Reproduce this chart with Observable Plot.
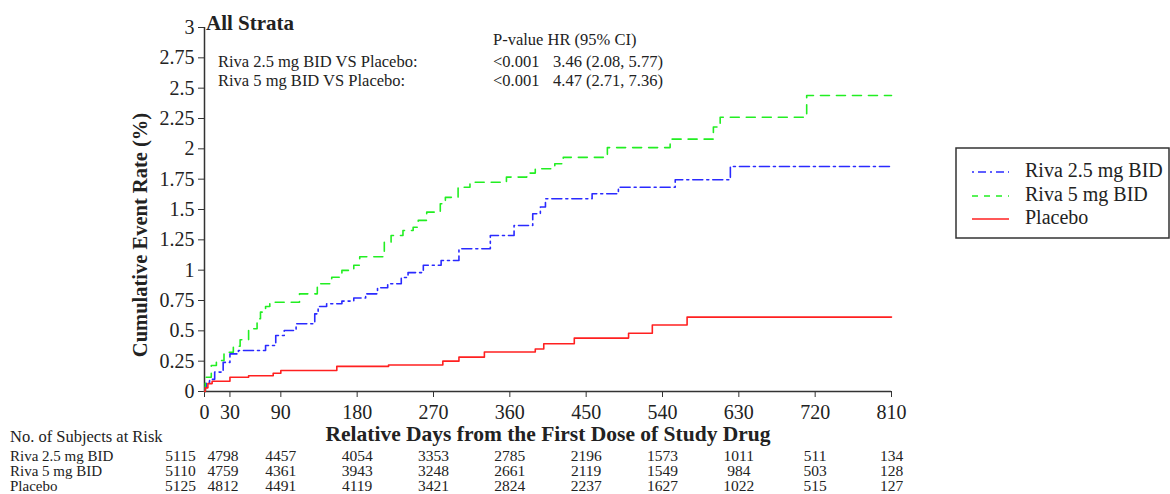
<!DOCTYPE html>
<html><head><meta charset="utf-8">
<script src="https://cdn.jsdelivr.net/npm/d3@7"></script>
<script src="https://cdn.jsdelivr.net/npm/@observablehq/plot@0.6"></script>
<style>body{margin:0;background:#fff;}</style>
</head><body><div id="chart"></div>
<script>
// ---- data ----
const seriesNames = ["Riva 2.5 mg BID", "Riva 5 mg BID", "Placebo"];
const seriesColors = ["#2a2aff", "#22ee22", "#ff2020"];
const seriesDash = ["10,4,2,4", "9,7", null];
const legendDash = ["2,4,8,4", "6,6", null];

const riva25Days  = [0,1,2,6,12,22,30,40,72,84,94,108,130,134,144,162,176,190,204,216,232,240,258,279,300,337,365,387,396,402,457,488,555,620,810];
const riva25Rates = [0,0.04,0.077,0.10,0.16,0.24,0.31,0.338,0.379,0.462,0.503,0.558,0.64,0.70,0.723,0.745,0.77,0.805,0.855,0.888,0.94,0.98,1.04,1.08,1.176,1.286,1.368,1.465,1.52,1.588,1.63,1.684,1.745,1.855,1.855];

const riva5Days  = [0,1,8,14,23,34,42,52,62,66,72,77,112,133,150,162,176,183,212,220,234,246,252,262,278,284,299,313,356,380,390,413,423,475,549,600,608,710,810];
const riva5Rates = [0,0.118,0.214,0.255,0.324,0.373,0.426,0.517,0.60,0.654,0.70,0.736,0.805,0.888,0.942,0.998,1.04,1.11,1.23,1.286,1.327,1.354,1.41,1.478,1.547,1.60,1.684,1.725,1.767,1.80,1.836,1.877,1.93,2.01,2.08,2.18,2.26,2.44,2.44];

const placeboDays  = [0,1,4,9,30,52,81,90,156,217,281,300,330,390,400,436,500,528,569,810];
const placeboRates = [0,0.03,0.065,0.085,0.118,0.13,0.151,0.173,0.207,0.218,0.25,0.283,0.325,0.35,0.393,0.44,0.48,0.548,0.613,0.613];

const xTicks = [0,30,90,180,270,360,450,540,630,720,810];
const yTicks = [0,0.25,0.5,0.75,1,1.25,1.5,1.75,2,2.25,2.5,2.75,3];

const riskDays    = [0,30,90,180,270,360,450,540,630,720,810];
const riskRiva25  = [5115,4798,4457,4054,3353,2785,2196,1573,1011,511,134];
const riskRiva5   = [5110,4759,4361,3943,3248,2661,2119,1549,984,503,128];
const riskPlacebo = [5125,4812,4491,4119,3421,2824,2237,1627,1022,515,127];
const riskLabels  = ["Riva 2.5 mg BID", "Riva 5 mg BID", "Placebo"];
const riskTitle   = "No. of Subjects at Risk";

const panelTitle = "All Strata";
const statHeader = "P-value HR (95% CI)";
const statLabels = ["Riva 2.5 mg BID VS Placebo:", "Riva 5 mg BID VS Placebo:"];
const statPvals  = ["<0.001", "<0.001"];
const statHR     = ["3.46 (2.08, 5.77)", "4.47 (2.71, 7.36)"];
const xTitle = "Relative Days from the First Dose of Study Drug";
const yTitle = "Cumulative Event Rate (%)";

// ---- build ----
const serif = "'Liberation Serif', 'Times New Roman', serif";
const series = [
  {days: riva25Days, rates: riva25Rates},
  {days: riva5Days, rates: riva5Rates},
  {days: placeboDays, rates: placeboRates}
].map((s, k) => s.days.map((d, i) => ({day: d, rate: s.rates[i], series: seriesNames[k]})));

const riskRows = [riskRiva25, riskRiva5, riskPlacebo];
const riskDy = [65, 80, 95];
const riskMarks = [];
riskRows.forEach((row, r) => {
  const data = riskDays.map((d, i) => ({day: d, n: row[i]}));
  const shift = {0: -24, 30: -7};
  const groups = [[0], [30], riskDays.filter(d => d > 30)];
  groups.forEach(gr => {
    riskMarks.push(Plot.text(data.filter(e => gr.includes(e.day)), {
      x: "day", text: d => String(d.n), frameAnchor: "bottom", lineAnchor: "middle",
      dy: riskDy[r], dx: gr.length === 1 ? shift[gr[0]] : 0,
      fontSize: 15.5, fill: "#222"
    }));
  });
});

const lineMarks = series.map((data, k) => Plot.line(data, {
  x: "day", y: "rate", curve: "step-after",
  stroke: seriesColors[k], strokeWidth: 1.6,
  strokeDasharray: seriesDash[k] || undefined
}));

const svg = Plot.plot({
  width: 1170, height: 494,
  marginLeft: 204, marginRight: 279, marginTop: 27, marginBottom: 103,
  style: {fontFamily: serif, fontSize: "18px", color: "#222", background: "#fff", overflow: "visible"},
  x: {domain: [0, 810], label: null},
  y: {domain: [0, 3], label: null},
  marks: [
    Plot.axisY({ticks: yTicks, tickSize: 6, tickPadding: 4, tickFormat: d => String(d), label: null, fontSize: 20, stroke: "#333"}),
    Plot.axisX({ticks: xTicks, tickSize: 6, tickPadding: 7, label: null, fontSize: 20, stroke: "#333"}),
    Plot.ruleX([0], {stroke: "#333", strokeWidth: 1.5}),
    Plot.ruleY([0], {stroke: "#333", strokeWidth: 1.5}),
    ...lineMarks,
    ...riskMarks
  ]
});
document.getElementById("chart").appendChild(svg);

const g = d3.select(svg).append("g").attr("font-family", serif).attr("fill", "#222")
  .attr("text-anchor", "start");

// panel title
g.append("text").attr("x", 206).attr("y", 30).attr("font-size", 21).attr("font-weight", "bold").text(panelTitle);

// stats annotation
g.append("text").attr("x", 493).attr("y", 45).attr("font-size", 16.5).text(statHeader);
statLabels.forEach((t, i) => {
  const y = 67 + i * 19;
  g.append("text").attr("x", 218).attr("y", y).attr("font-size", 16.5).text(t);
  g.append("text").attr("x", 493).attr("y", y).attr("font-size", 16.5).text(statPvals[i]);
  g.append("text").attr("x", 553).attr("y", y).attr("font-size", 16.5).text(statHR[i]);
});

// axis titles
g.append("text").attr("transform", "translate(142,235) rotate(-90)")
  .attr("text-anchor", "middle").attr("dominant-baseline", "middle")
  .attr("font-size", 20.5).attr("font-weight", "bold").text(yTitle);
g.append("text").attr("x", 548).attr("y", 441).attr("text-anchor", "middle")
  .attr("font-size", 21.5).attr("font-weight", "bold").text(xTitle);

// risk table labels
g.append("text").attr("x", 10).attr("y", 442).attr("font-size", 16.5).text(riskTitle);
riskLabels.forEach((t, i) => {
  g.append("text").attr("x", 10).attr("y", 391 + riskDy[i] + 5).attr("font-size", 15).text(t);
});

// legend
const lg = g.append("g");
lg.append("rect").attr("x", 956).attr("y", 148).attr("width", 213).attr("height", 90)
  .attr("fill", "none").attr("stroke", "#333").attr("stroke-width", 1.5);
const legY = [172, 196, 219];
seriesNames.forEach((name, k) => {
  lg.append("line").attr("x1", 972).attr("x2", 1009).attr("y1", legY[k]).attr("y2", legY[k])
    .attr("stroke", seriesColors[k]).attr("stroke-width", 1.6)
    .attr("stroke-dasharray", legendDash[k]);
  lg.append("text").attr("x", 1025).attr("y", legY[k]).attr("dominant-baseline", "middle")
    .attr("font-size", 20).text(name);
});
</script>
</body></html>
